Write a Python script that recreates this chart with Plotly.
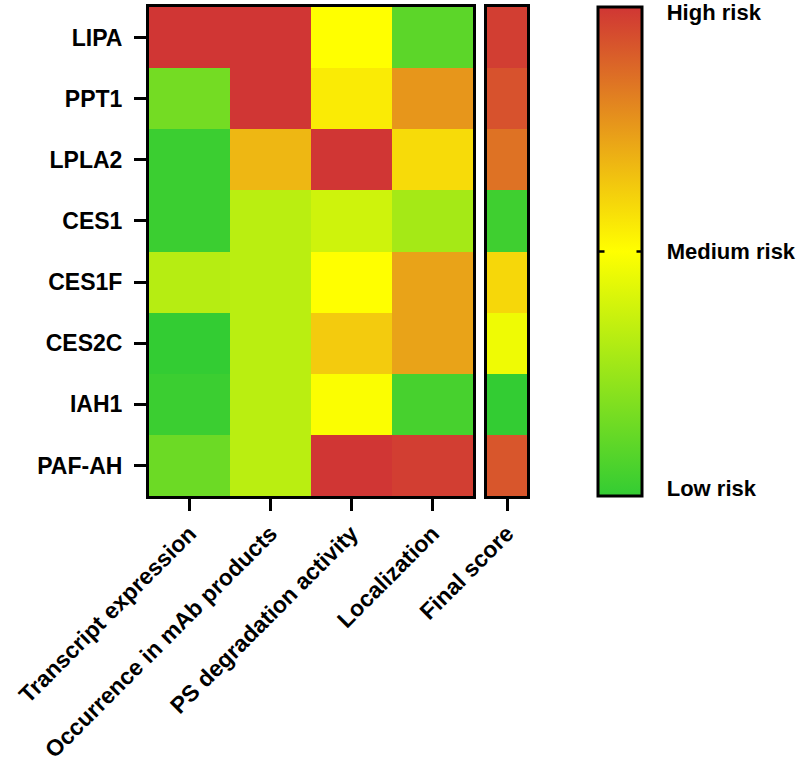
import plotly.graph_objects as go

genes = ["LIPA", "PPT1", "LPLA2", "CES1", "CES1F", "CES2C", "IAH1", "PAF-AH"]
criteria = ["Transcript expression", "Occurrence in mAb products",
            "PS degradation activity", "Localization"]
final_label = ["Final score"]

# risk values: 0 = low, 0.5 = medium, 1 = high
transcript = [1.00, 0.16, 0.02, 0.02, 0.32, 0.00, 0.02, 0.14]
occurrence = [1.00, 1.00, 0.68, 0.33, 0.33, 0.33, 0.33, 0.33]
ps_degradation = [0.50, 0.55, 1.00, 0.38, 0.50, 0.63, 0.49, 1.00]
localization = [0.10, 0.76, 0.59, 0.28, 0.73, 0.73, 0.05, 0.98]
final_score = [0.98, 0.93, 0.85, 0.03, 0.60, 0.46, 0.00, 0.92]

cb_vals = [0.016, 0.5, 0.99]
cb_text = ["Low risk", "Medium risk", "High risk"]

z_main = [[transcript[i], occurrence[i], ps_degradation[i], localization[i]]
          for i in range(len(genes))]
z_final = [[v] for v in final_score]

W, H = 800, 772
def fx(px): return px / W
def fy(py): return 1 - py / H

top, bottom = 7, 496
font_bold = dict(family="Liberation Sans, Arial", size=23, color="black", weight="bold")
cb_font = dict(family="Liberation Sans, Arial", size=22, color="black", weight="bold")

fig = go.Figure()
fig.add_trace(go.Heatmap(z=z_main, x=criteria, y=genes, coloraxis="coloraxis",
                         xaxis="x", yaxis="y"))
fig.add_trace(go.Heatmap(z=z_final, x=final_label, y=genes, coloraxis="coloraxis",
                         xaxis="x2", yaxis="y2"))

axis_common = dict(showline=True, linecolor="black", linewidth=3, mirror=True,
                   ticks="outside", ticklen=12, tickwidth=2.5, tickcolor="black",
                   showgrid=False, zeroline=False, tickfont=font_bold, automargin=False)

nb = "&nbsp;" * 3
mid_y = fy((top + bottom) / 2)
fig.update_layout(
    width=W, height=H,
    margin=dict(l=0, r=0, t=0, b=0),
    paper_bgcolor="white", plot_bgcolor="white",
    xaxis=dict(domain=[fx(149), fx(473)], anchor="y", tickangle=-45, **axis_common),
    yaxis=dict(domain=[fy(bottom), fy(top)], anchor="x", autorange="reversed",
               ticklabelstandoff=7, **axis_common),
    xaxis2=dict(domain=[fx(487), fx(527)], anchor="y2", tickangle=-45, **axis_common),
    yaxis2=dict(domain=[fy(bottom), fy(top)], anchor="x2", autorange="reversed",
                **{**axis_common, "showticklabels": False, "ticks": ""}),
    coloraxis=dict(
        cmin=0, cmax=1,
        colorscale=[[0.0, "rgb(51,204,51)"], [0.5, "rgb(255,255,0)"], [1.0, "rgb(208,54,52)"]],
        colorbar=dict(
            x=fx(598), xanchor="left", xpad=0, ypad=0,
            y=mid_y, yanchor="middle",
            thicknessmode="pixels", thickness=44,
            lenmode="pixels", len=bottom - top,
            outlinecolor="black", outlinewidth=3,
            tickvals=cb_vals, ticktext=[nb + t for t in cb_text],
            ticks="", ticklabeloverflow="allow",
            tickfont=cb_font,
        ),
    ),
    annotations=[
        dict(xref="paper", yref="paper", x=fx(599), y=mid_y, ax=7, ay=0,
             text="", showarrow=True, arrowhead=0, arrowwidth=2.5,
             arrowcolor="black", standoff=0, startstandoff=0),
        dict(xref="paper", yref="paper", x=fx(642), y=mid_y, ax=-7, ay=0,
             text="", showarrow=True, arrowhead=0, arrowwidth=2.5,
             arrowcolor="black", standoff=0, startstandoff=0),
    ],
)

fig.write_html("out.html", config={"displayModeBar": False},
               post_script="document.body.style.margin='0';")
